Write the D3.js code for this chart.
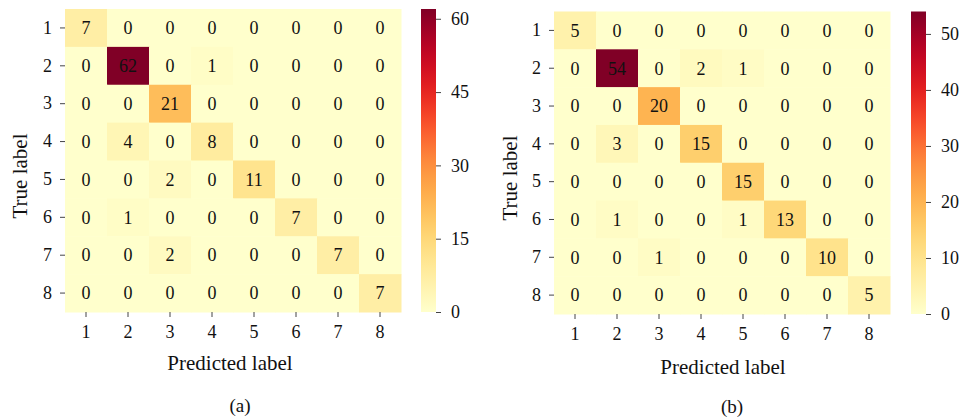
<!DOCTYPE html>
<html>
<head>
<meta charset="utf-8">
<script src="https://cdn.jsdelivr.net/npm/d3@7"></script>
<style>
  html, body { margin: 0; padding: 0; background: #fff; }
</style>
</head>
<body>
<svg id="chart" width="966" height="419"></svg>
<script>
// Class labels shared by both matrices
const classes = ["1", "2", "3", "4", "5", "6", "7", "8"];

// Confusion matrix (a): rows = true label, columns = predicted label
const matrixA = [
  [7, 0, 0, 0, 0, 0, 0, 0],
  [0, 62, 0, 1, 0, 0, 0, 0],
  [0, 0, 21, 0, 0, 0, 0, 0],
  [0, 4, 0, 8, 0, 0, 0, 0],
  [0, 0, 2, 0, 11, 0, 0, 0],
  [0, 1, 0, 0, 0, 7, 0, 0],
  [0, 0, 2, 0, 0, 0, 7, 0],
  [0, 0, 0, 0, 0, 0, 0, 7]
];

// Confusion matrix (b)
const matrixB = [
  [5, 0, 0, 0, 0, 0, 0, 0],
  [0, 54, 0, 2, 1, 0, 0, 0],
  [0, 0, 20, 0, 0, 0, 0, 0],
  [0, 3, 0, 15, 0, 0, 0, 0],
  [0, 0, 0, 0, 15, 0, 0, 0],
  [0, 1, 0, 0, 1, 13, 0, 0],
  [0, 0, 1, 0, 0, 0, 10, 0],
  [0, 0, 0, 0, 0, 0, 0, 5]
];

// Colour bar tick values
const colorTicksA = [0, 15, 30, 45, 60];
const colorTicksB = [0, 10, 20, 30, 40, 50];

const panelLabels = ["(a)", "(b)"];

const FONT = "'Liberation Serif'";
const svg = d3.select("#chart");

function styleText(sel, size) {
  return sel.attr("font-family", null).attr("font-size", null)
    .style("font-family", FONT).style("font-size", size + "px").attr("fill", "#111");
}

function drawPanel(cfg) {
  const { matrix, ticks, box, cbar, caption } = cfg;
  const g = svg.append("g");
  const maxVal = d3.max(matrix.flat());
  const color = d3.scaleSequential(d3.interpolateYlOrRd).domain([0, maxVal]);

  const x = d3.scaleBand().domain(classes).range([box.x0, box.x1]);
  const y = d3.scaleBand().domain(classes).range([box.y0, box.y1]);

  const cells = [];
  matrix.forEach((row, i) => row.forEach((v, j) => cells.push({ r: classes[i], c: classes[j], v })));

  g.selectAll("rect.cell").data(cells).join("rect")
    .attr("class", "cell")
    .attr("x", d => x(d.c))
    .attr("y", d => y(d.r))
    .attr("width", x.bandwidth() + 0.5)
    .attr("height", y.bandwidth() + 0.5)
    .attr("fill", d => color(d.v));

  styleText(g.selectAll("text.val").data(cells).join("text")
    .attr("class", "val")
    .attr("x", d => x(d.c) + x.bandwidth() / 2)
    .attr("y", d => y(d.r) + y.bandwidth() / 2)
    .attr("dy", "0.35em")
    .attr("text-anchor", "middle")
    .text(d => d.v), 18);

  // Axes
  const xAxis = g.append("g")
    .attr("transform", `translate(0,${box.y1})`)
    .call(d3.axisBottom(x).tickSize(5).tickPadding(8));
  const yAxis = g.append("g")
    .attr("transform", `translate(${box.x0},0)`)
    .call(d3.axisLeft(y).tickSize(5).tickPadding(8));
  [xAxis, yAxis].forEach(a => {
    a.attr("font-family", null).attr("font-size", null);
    a.select(".domain").remove();
    a.selectAll(".tick line").attr("stroke", "#444").attr("stroke-width", 1);
    styleText(a.selectAll(".tick text"), 18);
  });

  // Axis titles
  styleText(g.append("text")
    .attr("x", cfg.xTitle.x).attr("y", cfg.xTitle.y)
    .attr("text-anchor", "middle")
    .text("Predicted label"), 21);
  styleText(g.append("text")
    .attr("transform", `translate(${cfg.yTitle.x},${cfg.yTitle.y}) rotate(-90)`)
    .attr("text-anchor", "middle")
    .text("True label"), 21);

  // Colour bar
  const cs = d3.scaleLinear().domain([0, maxVal]).range([cbar.y1, cbar.y0]);
  const gradId = "grad-" + caption.replace(/\W/g, "");
  const grad = svg.append("defs").append("linearGradient")
    .attr("id", gradId).attr("x1", 0).attr("y1", 1).attr("x2", 0).attr("y2", 0);
  d3.range(0, 1.0001, 0.05).forEach(t => {
    grad.append("stop").attr("offset", t).attr("stop-color", color(t * maxVal));
  });
  g.append("rect")
    .attr("x", cbar.x0).attr("y", cbar.y0)
    .attr("width", cbar.x1 - cbar.x0).attr("height", cbar.y1 - cbar.y0)
    .attr("fill", `url(#${gradId})`);
  const cAxis = g.append("g")
    .attr("transform", `translate(${cbar.x1},0)`)
    .call(d3.axisRight(cs).tickValues(ticks).tickSize(5).tickPadding(10));
  cAxis.attr("font-family", null).attr("font-size", null);
  cAxis.select(".domain").remove();
  cAxis.selectAll(".tick line").attr("stroke", "#444");
  styleText(cAxis.selectAll(".tick text"), 18);

  // Panel caption
  styleText(g.append("text")
    .attr("x", cfg.capPos.x).attr("y", cfg.capPos.y)
    .attr("text-anchor", "middle")
    .text(caption), 19);
}

drawPanel({
  matrix: matrixA,
  ticks: colorTicksA,
  box: { x0: 65, x1: 401, y0: 9, y1: 312 },
  cbar: { x0: 421, x1: 436, y0: 9, y1: 312 },
  xTitle: { x: 230, y: 370 },
  yTitle: { x: 27, y: 176 },
  capPos: { x: 240, y: 412 },
  caption: panelLabels[0]
});

drawPanel({
  matrix: matrixB,
  ticks: colorTicksB,
  box: { x0: 554, x1: 890, y0: 11.5, y1: 314 },
  cbar: { x0: 911, x1: 926, y0: 11.5, y1: 314 },
  xTitle: { x: 723, y: 374 },
  yTitle: { x: 517, y: 178 },
  capPos: { x: 732, y: 413 },
  caption: panelLabels[1]
});
</script>
</body>
</html>
